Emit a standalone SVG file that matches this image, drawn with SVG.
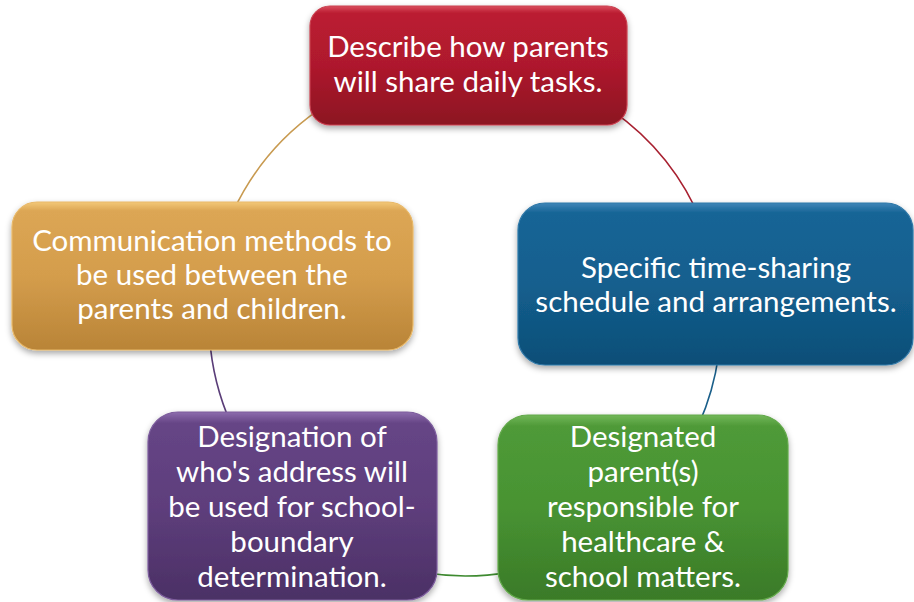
<svg xmlns="http://www.w3.org/2000/svg" width="914" height="602" viewBox="0 0 914 602">
  <defs>
    <filter id="shadow" x="-10%" y="-10%" width="120%" height="130%">
      <feDropShadow dx="0" dy="3" stdDeviation="3" flood-color="#000" flood-opacity="0.35"/>
    </filter>
    <linearGradient id="gRed" x1="0" y1="0" x2="0" y2="1">
      <stop offset="0" stop-color="#da4e5e"/>
      <stop offset="0.06" stop-color="#bb1c31"/>
      <stop offset="0.5" stop-color="#ae192d"/>
      <stop offset="1" stop-color="#8c1422"/>
    </linearGradient>
    <linearGradient id="gBlue" x1="0" y1="0" x2="0" y2="1">
      <stop offset="0" stop-color="#3e86b8"/>
      <stop offset="0.06" stop-color="#176596"/>
      <stop offset="0.5" stop-color="#135f8e"/>
      <stop offset="1" stop-color="#0e4e77"/>
    </linearGradient>
    <linearGradient id="gOrange" x1="0" y1="0" x2="0" y2="1">
      <stop offset="0" stop-color="#f3c878"/>
      <stop offset="0.06" stop-color="#dca654"/>
      <stop offset="0.5" stop-color="#d49d4c"/>
      <stop offset="1" stop-color="#b98437"/>
    </linearGradient>
    <linearGradient id="gPurple" x1="0" y1="0" x2="0" y2="1">
      <stop offset="0" stop-color="#8d6dad"/>
      <stop offset="0.06" stop-color="#664586"/>
      <stop offset="0.5" stop-color="#5e3e7c"/>
      <stop offset="1" stop-color="#4b3065"/>
    </linearGradient>
    <linearGradient id="gGreen" x1="0" y1="0" x2="0" y2="1">
      <stop offset="0" stop-color="#72b758"/>
      <stop offset="0.06" stop-color="#4f9a38"/>
      <stop offset="0.5" stop-color="#489332"/>
      <stop offset="1" stop-color="#3a7a28"/>
    </linearGradient>
    <style>
      .box { filter: url(#shadow); stroke-width: 1.2; }
      .lbl { font-family: Lato, "Open Sans", "Liberation Sans", sans-serif; font-size: 29.5px; fill: #ffffff; text-anchor: middle; }
      .arc { fill: none; stroke-width: 1.6; }
    </style>
  </defs>

  <!-- cycle arcs: circle centre (465,320), r 256 -->
  <g id="connectors">
    <path class="arc" stroke="#a82030" d="M611.8,110.3 A256,256 0 0 1 702.4,224.1"/>
    <path class="arc" stroke="#1a5f8a" d="M718.5,355.6 A256,256 0 0 1 698.9,424.1"/>
    <path class="arc" stroke="#3e8a30" d="M509.5,572.1 A256,256 0 0 1 425,572.8"/>
    <path class="arc" stroke="#5a3d78" d="M231.1,424.1 A256,256 0 0 1 209.6,337.9"/>
    <path class="arc" stroke="#c89a50" d="M233,211.8 A256,256 0 0 1 318.2,110.2"/>
  </g>

  <g id="node-tasks">
    <rect class="box" x="310" y="6" width="317" height="119" rx="20" fill="url(#gRed)" stroke="#c9404f"/>
    <text class="lbl" x="468" y="57">Describe how parents</text>
    <text class="lbl" x="468" y="92">will share daily tasks.</text>
  </g>

  <g id="node-schedule">
    <rect class="box" x="518" y="203" width="395" height="162" rx="27" fill="url(#gBlue)" stroke="#2f78a8"/>
    <text class="lbl" x="716" y="278">Specific time-sharing</text>
    <text class="lbl" x="716" y="312">schedule and arrangements.</text>
  </g>

  <g id="node-healthcare">
    <rect class="box" x="498" y="415" width="290" height="185" rx="30" fill="url(#gGreen)" stroke="#62a84a"/>
    <text class="lbl" x="643" y="447">Designated</text>
    <text class="lbl" x="643" y="482">parent(s)</text>
    <text class="lbl" x="643" y="517">responsible for</text>
    <text class="lbl" x="643" y="552">healthcare &amp;</text>
    <text class="lbl" x="643" y="587">school matters.</text>
  </g>

  <g id="node-address">
    <rect class="box" x="148" y="412" width="289" height="188" rx="30" fill="url(#gPurple)" stroke="#7c5c9c"/>
    <text class="lbl" x="292" y="447">Designation of</text>
    <text class="lbl" x="292" y="482">who's address will</text>
    <text class="lbl" x="292" y="517">be used for school-</text>
    <text class="lbl" x="292" y="552">boundary</text>
    <text class="lbl" x="292" y="587">determination.</text>
  </g>

  <g id="node-communication">
    <rect class="box" x="12" y="202" width="401" height="148" rx="25" fill="url(#gOrange)" stroke="#e8b868"/>
    <text class="lbl" x="212" y="251">Communication methods to</text>
    <text class="lbl" x="212" y="285">be used between the</text>
    <text class="lbl" x="212" y="319">parents and children.</text>
  </g>
</svg>
